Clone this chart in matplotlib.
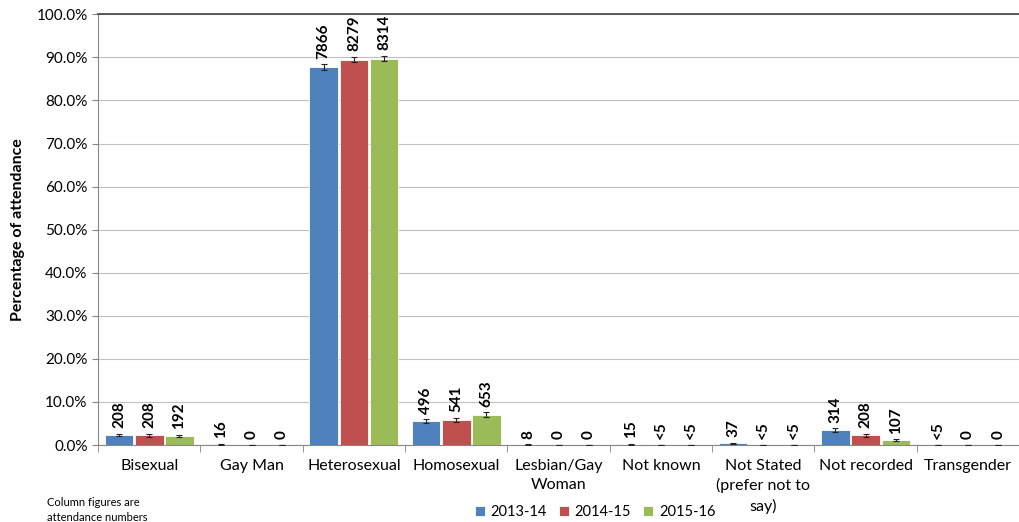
import matplotlib.pyplot as plt
import numpy as np
from matplotlib.ticker import FuncFormatter, FixedLocator

plt.rcParams['font.family'] = ['Lato', 'DejaVu Sans']

# categories and series (percent of attendance)
categories = ['Bisexual', 'Gay Man', 'Heterosexual', 'Homosexual', 'Lesbian/Gay\nWoman',
              'Not known', 'Not Stated\n(prefer not to\nsay)', 'Not recorded', 'Transgender']
years = ['2013-14', '2014-15', '2015-16']
colors = ['#4F81BD', '#C0504D', '#9BBB59']

pct_2013 = [2.3, 0.18, 87.7, 5.5, 0.09, 0.17, 0.41, 3.5, 0.03]
pct_2014 = [2.25, 0.0, 89.5, 5.85, 0.0, 0.03, 0.03, 2.25, 0.0]
pct_2015 = [2.1, 0.0, 89.7, 7.05, 0.0, 0.03, 0.03, 1.16, 0.0]

err_2013 = [0.31, 0.09, 0.68, 0.47, 0.06, 0.08, 0.13, 0.38, 0.0]
err_2014 = [0.30, 0.0, 0.62, 0.48, 0.0, 0.0, 0.0, 0.30, 0.0]
err_2015 = [0.29, 0.0, 0.62, 0.52, 0.0, 0.0, 0.0, 0.22, 0.0]

counts_2013 = ['208', '16', '7866', '496', '8', '15', '37', '314', '<5']
counts_2014 = ['208', '0', '8279', '541', '0', '<5', '<5', '208', '0']
counts_2015 = ['192', '0', '8314', '653', '0', '<5', '<5', '107', '0']

values = [pct_2013, pct_2014, pct_2015]
errors = [err_2013, err_2014, err_2015]
counts = [counts_2013, counts_2014, counts_2015]

fig = plt.figure(figsize=(10.19, 5.22), dpi=100)
ax = fig.add_axes([0.0962, 0.1475, 0.904, 0.825])

x = np.arange(len(categories))
width = 0.28
for i in range(3):
    pos = x + (i - 1) * (width + 0.015)
    ax.bar(pos, values[i], width, color=colors[i], edgecolor='white', linewidth=0.6,
           label=years[i], zorder=3)
    ax.errorbar(pos, values[i], yerr=errors[i], fmt='none', ecolor='#222222',
                elinewidth=0.8, capsize=2.5, capthick=0.8, zorder=4)
    for p, v, e, c in zip(pos, values[i], errors[i], counts[i]):
        ax.annotate(c, (p, v + e), xytext=(0, 4), textcoords='offset points',
                    rotation=90, ha='center', va='bottom', fontsize=11,
                    fontweight='bold', zorder=5)

ax.set_xlim(-0.5, len(categories) - 0.5)
ax.set_ylim(0, 100)
ax.set_yticks(np.arange(0, 101, 10))
ax.yaxis.set_major_formatter(FuncFormatter(lambda v, _: f'{v:.1f}%'))
ax.grid(axis='y', color='#BFBFBF', linewidth=0.8, zorder=0)
ax.set_xticks(x)
ax.set_xticklabels(categories, fontsize=11.5, linespacing=1.45)
ax.tick_params(axis='x', length=0, pad=10)
ax.xaxis.set_minor_locator(FixedLocator(np.arange(-0.5, len(categories), 1)))
ax.tick_params(axis='x', which='minor', length=5, color='#868686')
ax.tick_params(axis='y', labelsize=11, length=4, color='#868686')
ax.set_ylabel('Percentage of attendance', fontsize=11.5, fontweight='bold', labelpad=8)

ax.spines['right'].set_visible(False)
ax.spines['top'].set_color('#404040')
ax.spines['top'].set_linewidth(1.2)
for s in ['left', 'bottom']:
    ax.spines[s].set_color('#868686')

fig.legend(loc='center', bbox_to_anchor=(0.584, 0.019), ncol=3, frameon=False,
           fontsize=10.5, handlelength=0.7, handleheight=0.7, handletextpad=0.4,
           columnspacing=0.8, borderpad=0.1, borderaxespad=0.1)

fig.text(0.046, 0.023, 'Column figures are\nattendance numbers', fontsize=8,
         va='center', ha='left', linespacing=1.4)

fig.savefig('out.png', dpi=100)
